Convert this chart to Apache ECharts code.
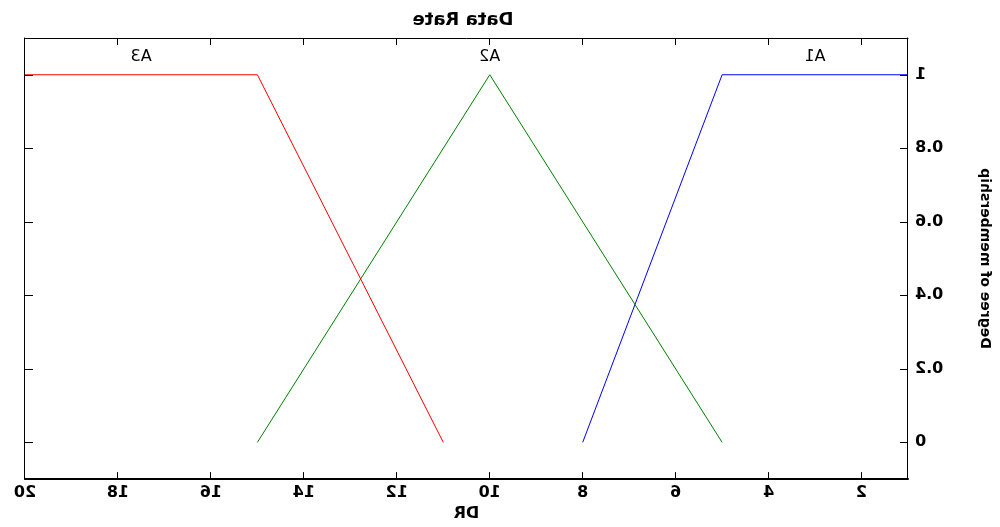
<!DOCTYPE html>
<html>
<head>
<meta charset="utf-8">
<script src="https://cdn.jsdelivr.net/npm/echarts@6/dist/echarts.min.js"></script>
<style>
html,body{margin:0;padding:0;background:#fff;}
#c{width:1000px;height:527px;transform:scaleX(-1);}
</style>
</head>
<body>
<div id="c"></div>
<script>
// Data
const titleText = 'Data Rate';
const xName = 'DR';
const yName = 'Degree of membership';
const xTicks = [2, 4, 6, 8, 10, 12, 14, 16, 18, 20];
const yTicks = [0, 0.2, 0.4, 0.6, 0.8, 1];
const xRange = [1, 20];
const yRange = [-0.1, 1.1];

const mfNames = ['A1', 'A2', 'A3'];
const mfColors = ['#0000ff', '#008000', '#ff0000'];
const a1X = [1, 5, 8];
const a1Y = [1, 1, 0];
const a2X = [5, 10, 15];
const a2Y = [0, 1, 0];
const a3X = [11, 15, 20];
const a3Y = [0, 1, 1];
const labelX = [3, 10, 17.5];
const labelY = [1.05, 1.05, 1.05];

const mfX = [a1X, a2X, a3X];
const mfY = [a1Y, a2Y, a3Y];

const tickFont = {fontFamily: 'DejaVu Sans', fontWeight: 'bold', fontSize: 16, color: '#000'};

const series = mfNames.map((n, i) => ({
  type: 'line',
  name: n,
  data: mfX[i].map((x, k) => [x, mfY[i][k]]),
  showSymbol: false,
  lineStyle: {color: mfColors[i], width: 1},
  itemStyle: {color: mfColors[i]},
  z: 3
}));
series.push({
  type: 'scatter',
  data: mfNames.map((n, i) => [labelX[i], labelY[i], n]),
  symbolSize: 1,
  itemStyle: {opacity: 0},
  label: {
    show: true,
    position: 'inside',
    formatter: p => p.data[2],
    fontFamily: 'DejaVu Sans',
    fontSize: 16,
    color: '#000',
    opacity: 1,
    textBorderWidth: 0
  },
  z: 4
});

const chart = echarts.init(document.getElementById('c'), null, {renderer: 'canvas'});
chart.setOption({
  animation: false,
  backgroundColor: '#fff',
  title: {
    text: titleText,
    left: 532,
    top: 6,
    textAlign: 'center',
    textStyle: {fontFamily: 'DejaVu Sans', fontWeight: 'bold', fontSize: 18, color: '#000'}
  },
  grid: {left: 92, right: 25, top: 38, bottom: 42, containLabel: false},
  xAxis: [{
    type: 'value',
    position: 'bottom',
    min: xRange[0], max: xRange[1],
    name: xName,
    nameLocation: 'middle',
    nameGap: 20,
    nameTextStyle: {fontFamily: 'DejaVu Sans', fontWeight: 'bold', fontSize: 16, color: '#000'},
    splitLine: {show: false},
    axisLine: {show: true, onZero: false, lineStyle: {color: '#000', width: 2}},
    axisTick: {show: true, inside: true, length: 7, customValues: xTicks, lineStyle: {color: '#000', width: 1}},
    axisLabel: {show: true, customValues: xTicks, margin: 6, ...tickFont}
  }, {
    type: 'value',
    position: 'top',
    min: xRange[0], max: xRange[1],
    splitLine: {show: false},
    axisLine: {show: true, onZero: false, lineStyle: {color: '#000', width: 1}},
    axisTick: {show: true, inside: true, length: 7, customValues: xTicks, lineStyle: {color: '#000', width: 1}},
    axisLabel: {show: false}
  }],
  yAxis: [{
    type: 'value',
    position: 'left',
    min: yRange[0], max: yRange[1],
    name: yName,
    nameLocation: 'middle',
    nameGap: 70,
    nameRotate: 90,
    nameTextStyle: {fontFamily: 'DejaVu Sans', fontWeight: 'bold', fontSize: 14, color: '#000'},
    splitLine: {show: false},
    axisLine: {show: true, onZero: false, lineStyle: {color: '#000', width: 1}},
    axisTick: {show: true, inside: true, length: 8, customValues: yTicks, lineStyle: {color: '#000', width: 1}},
    axisLabel: {show: true, customValues: yTicks, margin: 7, formatter: v => String(v), ...tickFont}
  }, {
    type: 'value',
    position: 'right',
    min: yRange[0], max: yRange[1],
    splitLine: {show: false},
    axisLine: {show: true, onZero: false, lineStyle: {color: '#000', width: 1}},
    axisTick: {show: true, inside: true, length: 8, customValues: yTicks, lineStyle: {color: '#000', width: 1}},
    axisLabel: {show: false}
  }],
  series: series
});
</script>
</body>
</html>
